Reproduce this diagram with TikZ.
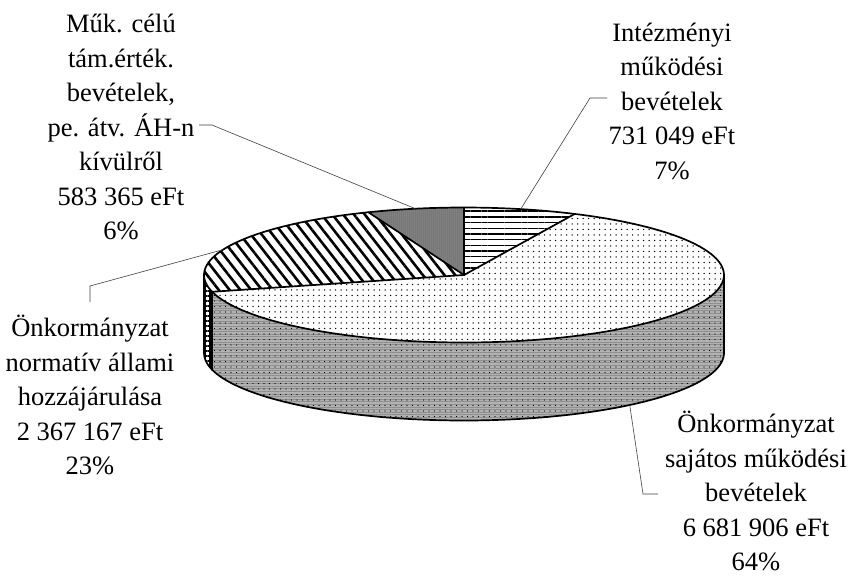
\documentclass[tikz,border=0pt]{standalone}
\usepackage{fontspec}
\setmainfont{Liberation Serif}
\usetikzlibrary{patterns.meta}
\begin{document}
\begin{tikzpicture}[x=1pt,y=-1pt,
  lbl/.style={align=center, inner sep=0pt, font=\fontsize{26.5}{34.5}\selectfont},
  leader/.style={draw=black!75, line width=0.6pt},
  edge/.style={draw=black, line width=1.7pt, line join=round, line cap=round},
  sideface/.style={fill=black!30,
    postaction={pattern={Lines[angle=0,distance=2.6pt,line width=0.8pt]}, pattern color=black!45},
    postaction={pattern={Dots[distance=5.5pt,radius=0.7pt]}, pattern color=black}},
  hlines/.style={fill=white, postaction={pattern={Lines[angle=0,distance=5.7pt,line width=1.4pt]}, pattern color=black}},
  dlines/.style={fill=white, postaction={pattern={Lines[angle=-52,distance=8.5pt,line width=2.6pt]}, pattern color=black}},
  dotsf/.style={fill=white, postaction={pattern={Dots[distance=5.5pt,radius=0.75pt]}, pattern color=black}},
  darkf/.style={fill=black!55, postaction={pattern={Dots[distance=2pt,radius=0.5pt]}, pattern color=black!30}},
  gridf/.style={fill=white, postaction={pattern={Hatch[angle=0,distance=5pt,line width=1.6pt]}, pattern color=black}}]
\def\pcx{464}\def\pcy{275}\def\prx{260}\def\pry{67.5}\def\pdep{78}
\fill[white] (0,0) rectangle (852,576);
\useasboundingbox (0,0) rectangle (852,576);

% side faces
\path[sideface] plot[domain=0:165.6,samples=60,variable=\t] ({\pcx+\prx*cos(\t)},{\pcy+\pry*sin(\t)})
  -- plot[domain=165.6:0,samples=60,variable=\t] ({\pcx+\prx*cos(\t)},{\pcy+\pdep+\pry*sin(\t)}) -- cycle;
\path[gridf] plot[domain=165.6:180,samples=10,variable=\t] ({\pcx+\prx*cos(\t)},{\pcy+\pry*sin(\t)})
  -- plot[domain=180:165.6,samples=10,variable=\t] ({\pcx+\prx*cos(\t)},{\pcy+\pdep+\pry*sin(\t)}) -- cycle;

% top slices
\path[hlines] (\pcx,\pcy) -- plot[domain=-90:-64.8,samples=20,variable=\t] ({\pcx+\prx*cos(\t)},{\pcy+\pry*sin(\t)}) -- cycle;
\path[dotsf] (\pcx,\pcy) -- plot[domain=-64.8:165.6,samples=100,variable=\t] ({\pcx+\prx*cos(\t)},{\pcy+\pry*sin(\t)}) -- cycle;
\path[dlines] (\pcx,\pcy) -- plot[domain=165.6:248.4,samples=40,variable=\t] ({\pcx+\prx*cos(\t)},{\pcy+\pry*sin(\t)}) -- cycle;
\path[darkf] (\pcx,\pcy) -- plot[domain=248.4:270,samples=20,variable=\t] ({\pcx+\prx*cos(\t)},{\pcy+\pry*sin(\t)}) -- cycle;

% outlines
\draw[edge] plot[domain=0:360,samples=160,variable=\t] ({\pcx+\prx*cos(\t)},{\pcy+\pry*sin(\t)}) -- cycle;
\draw[edge] plot[domain=0:180,samples=90,variable=\t] ({\pcx+\prx*cos(\t)},{\pcy+\pdep+\pry*sin(\t)});
\draw[edge] ({\pcx+\prx},\pcy) -- ({\pcx+\prx},{\pcy+\pdep});
\draw[edge] ({\pcx-\prx},\pcy) -- ({\pcx-\prx},{\pcy+\pdep});
\draw[edge] ({\pcx+\prx*cos(165.6)},{\pcy+\pry*sin(165.6)}) -- ({\pcx+\prx*cos(165.6)},{\pcy+\pdep+\pry*sin(165.6)});
\foreach \a in {-90,-64.8,165.6,248.4}
  \draw[edge] (\pcx,\pcy) -- ({\pcx+\prx*cos(\a)},{\pcy+\pry*sin(\a)});

% labels
\node[lbl] (lmuk) at (121,127) {Műk. célú\\tám.érték.\\bevételek,\\pe. átv. ÁH-n\\kívülről\\583 365 eFt\\6\%};
\node[lbl] (lint) at (672,101) {Intézményi\\működési\\bevételek\\731 049 eFt\\7\%};
\node[lbl] (lnorm) at (90,395) {Önkormányzat\\normatív állami\\hozzájárulása\\2 367 167 eFt\\23\%};
\node[lbl] (lsaj) at (756,491) {Önkormányzat\\sajátos működési\\bevételek\\6 681 906 eFt\\64\%};

% leader anchor points
\coordinate (muks) at (199,125);
\coordinate (mukk) at (212,125);
\coordinate (muke) at ({\pcx+\prx*cos(259.2)},{\pcy+\pry*sin(259.2)});
\coordinate (ints) at (607,98);
\coordinate (intk) at (590,98);
\coordinate (inte) at ({\pcx+\prx*cos(-77.4)},{\pcy+\pry*sin(-77.4)});
\coordinate (norms) at (90,302);
\coordinate (normk) at (90,286);
\coordinate (norme) at ({\pcx+\prx*cos(202)},{\pcy+\pry*sin(202)});
\coordinate (sajs) at (658,494);
\coordinate (sajk) at (643,494);
\coordinate (saje) at ({\pcx+\prx*cos(50.4)},{\pcy+\pdep+\pry*sin(50.4)});

\draw[leader] (muks) -- (mukk) -- (muke);
\draw[leader] (ints) -- (intk) -- (inte);
\draw[leader] (norms) -- (normk) -- (norme);
\draw[leader] (sajs) -- (sajk) -- (saje);
\end{tikzpicture}
\end{document}
